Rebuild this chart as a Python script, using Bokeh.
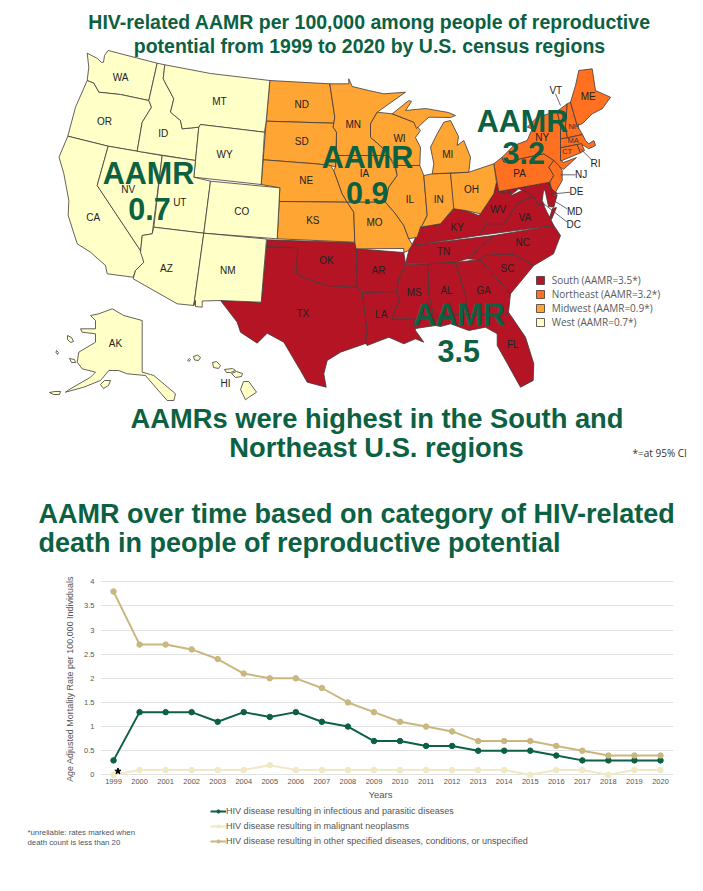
from bokeh.plotting import figure
from bokeh.models import Range1d, FixedTicker, Legend, LegendItem
from bokeh.core.properties import value
from bokeh.embed import file_html
from bokeh.resources import INLINE

# ---------- line chart data ----------
years = list(range(1999, 2021))
infectious = [0.3,1.3,1.3,1.3,1.1,1.3,1.2,1.3,1.1,1.0,0.7,0.7,0.6,0.6,0.5,0.5,0.5,0.4,0.3,0.3,0.3,0.3]
malignant = [0.0,0.1,0.1,0.1,0.1,0.1,0.2,0.1,0.1,0.1,0.1,0.1,0.1,0.1,0.1,0.1,0.0,0.1,0.1,0.0,0.1,0.1]
other = [3.8,2.7,2.7,2.6,2.4,2.1,2.0,2.0,1.8,1.5,1.3,1.1,1.0,0.9,0.7,0.7,0.7,0.6,0.5,0.4,0.4,0.4]
series_names = ["HIV disease resulting in infectious and parasitic diseases",
                "HIV disease resulting in malignant neoplasms",
                "HIV disease resulting in other specified diseases, conditions, or unspecified"]
series_colors = ["#0b6142","#efe9c6","#c9b77f"]
y_tick_values = [0,0.5,1,1.5,2,2.5,3,3.5,4]
y_tick_labels = ["0","0.5","1","1.5","2","2.5","3","3.5","4"]

# ---------- map data ----------
region_names = ["South","Northeast","Midwest","West"]
region_aamr = [3.5,3.2,0.9,0.7]

WEST = {
"WA":[(86.7,52.7),(97,58),(101,62),(103,61.7),(104,55),(107.7,50),(156.7,62.7),(148.3,100),(120,94),(98.3,91.7),(93.3,82.7),(86.7,80),(88.3,66.7)],
"OR":[(86.7,80),(93.3,82.7),(98.3,91.7),(120,94),(148.3,100),(151,106.7),(141.7,121.7),(136.7,150.7),(107.7,145.7),(67.3,135.7),(75,106.7)],
"CA":[(67.3,135.7),(107.7,145.7),(96.7,185),(141.7,252.7),(143.3,261.7),(135,270),(132.7,276.7),(106.7,273.3),(105,265),(90,251.7),(76.7,243.3),(67.7,215),(68.3,200),(63.3,173),(58.5,156.7)],
"NV":[(107.7,145.7),(161.7,155),(151.7,233.3),(141.7,235),(140,251.7),(141.7,252.7),(96.7,185)],
"ID":[(156.7,62.7),(164.3,64.3),(162.7,78.3),(173.3,98.3),(170,111.7),(180,120),(181.7,128.3),(198.3,126.7),(195,160),(136.7,150.7),(141.7,121.7),(151,106.7),(148.3,100)],
"MT":[(164.3,64.3),(210,73),(269.3,80),(265.7,120.7),(264,131.7),(200,124),(198.3,126.7),(181.7,128.3),(180,120),(170,111.7),(173.3,98.3),(162.7,78.3)],
"WY":[(200,124),(264,131.7),(260.7,184),(193.3,176.7),(195,160),(198.3,126.7)],
"UT":[(161.7,155),(195,160),(193.3,176.7),(210,180.7),(203.3,232.7),(153.3,226.7)],
"CO":[(210,180.7),(279.3,187.3),(276.7,238.3),(203.3,232.7)],
"AZ":[(153.3,226.7),(203.3,232.7),(193.3,305),(176.7,303.3),(132.7,278.3),(135,270),(143.3,261.7),(140,251.7),(141.7,235),(151.7,233.3)],
"NM":[(203.3,232.7),(266,238.5),(260.7,301.7),(220,300),(201.7,300.5),(201.7,306.7),(195,306),(195,300),(193.3,305)],
"AK":[(90,315),(98.3,313.3),(111.7,308.3),(123.3,315),(141.7,320),(141.7,371.7),(150,374),(153.3,375),(164,384),(175,393.3),(173.3,400),(166.7,400),(155,386.7),(145,375),(126.7,373.3),(118,370),(108.3,370),(100,380),(83.3,386.7),(65,391.7),(68.3,389.3),(90,376.7),(95,371.7),(81.7,368.3),(76.7,361.7),(78.3,351.7),(95,341.7),(95,333.3),(81.7,331.7),(80,328.3),(95,328.3),(95,320)],
"AK_st_lawrence":[(67,335),(71,337),(73,341),(70,342),(67,339)],
"AK_nunivak":[(69,358),(74,359),(75,362),(71,362)],
"AK_st_matthew":[(56,350),(58,352),(57,354),(55.5,352)],
"AK_kodiak":[(100,384),(104,380),(110,380),(108,385),(103,388)],
"AK_unimak":[(49,392),(54,391),(60,391),(59,394),(53,394)],
"HI_kauai":[(193,356),(197,354.5),(200,357),(198,360),(194,359.5)],
"HI_niihau":[(187,359.5),(189,358),(190,359),(188.5,361)],
"HI_oahu":[(212,362),(216,361),(220,365),(218,368),(213,367)],
"HI_molokai":[(224,369),(232,368),(235,370),(230,372),(226,372)],
"HI_maui":[(231,373),(236,371),(242,373),(241,376),(235,377)],
"HI_hawaii":[(243,381),(248.3,381),(256,391.7),(248,397),(245,399.3),(240,389)],
}
MIDWEST = {
"ND":[(269.3,80),(329.3,83.3),(334.3,116.7),(333.3,122.7),(265.7,120.7)],
"SD":[(265.7,120.7),(333.3,122.7),(332.7,126.7),(336,131.7),(335,166.7),(330,165),(315,163.3),(262.7,159.3)],
"NE":[(262.7,159.3),(315,163.3),(330,165),(333.3,170),(341.7,193.3),(346.7,201.7),(278.7,201),(279.3,187.3),(260.7,184)],
"KS":[(278.7,201),(346.7,201.7),(353.3,211.7),(354.3,241.7),(276.7,238.3)],
"MN":[(329.3,83.3),(348.3,83.3),(348.3,78.3),(351.7,86),(368.3,90),(383.3,93.3),(405,91.7),(376.7,111.7),(370,123.3),(370,136.7),(385,150),(388.3,155),(336,155),(336,131.7),(332.7,126.7),(333.3,122.7),(334.3,116.7)],
"IA":[(336,155),(388.3,155),(395,168.3),(396.7,175),(388.3,186.7),(385,201.7),(346.7,201.7),(341.7,193.3),(333.3,170),(335,166.7)],
"MO":[(346.7,201.7),(385,201.7),(395,213.3),(403.3,225),(408.3,238.3),(411.7,244),(408,250),(403.3,252),(403.3,248),(355.5,248.3),(354.3,241.7),(353.3,211.7)],
"WI":[(376.7,111.7),(391.7,113.3),(413.3,121.7),(420,130),(415,137),(420,147),(419.3,165),(395,165),(388.3,155),(385,150),(370,136.7),(370,123.3)],
"IL":[(395,165),(419.3,165),(423.3,175),(426.7,215),(421.7,225),(420,226.7),(416.7,236.7),(408.3,238.3),(403.3,225),(395,213.3),(385,201.7),(388.3,186.7),(396.7,175)],
"IN":[(423.3,175),(431.7,173.3),(450,172.7),(454,206.7),(440,223.3),(420,226.7),(421.7,225),(426.7,215)],
"OH":[(450,172.7),(468.3,171.7),(493.3,163.3),(496,181.7),(493.3,193.3),(480,213.3),(465,210),(453.3,208.3)],
"MI":[(431.7,173.3),(468.3,171.7),(470,156.7),(463.3,140),(456.7,145),(458,136),(450,120),(443.3,121.7),(436.7,133.3),(430,146.7),(433.3,163.3)],
"MI_upper":[(391.7,113.3),(408.3,100),(411,101),(405,110),(425,108),(448,112),(455,115),(450,117),(428.3,116.7),(416,128),(413.3,121.7)],
}
NORTHEAST = {
"PA":[(493.3,163.3),(501.7,156.7),(503.3,161.7),(543.3,153.3),(553.3,160),(548.3,166.7),(553.3,175),(549.3,181.7),(498.3,191)],
"NY":[(501.7,156.7),(513.3,145),(526.7,140),(531.7,128.3),(526.7,126.7),(536.7,116.7),(556.7,110.7),(560,125),(560,147.3),(560,160),(563,162),(576,157),(563,169),(558.5,166),(553.3,160),(543.3,153.3),(503.3,161.7)],
"NJ":[(553.3,160),(558.3,165),(561.7,170),(561.7,180),(555,191.7),(551,188),(549.3,181.7),(553.3,175),(548.3,166.7)],
"VT":[(556.7,110.7),(566.7,103.3),(565,126.7),(567,137.3),(560,138.3),(560,125)],
"NH":[(566.7,103.3),(570,101.7),(576.7,125),(582,134),(567,137.3),(565,126.7)],
"ME":[(570,101.7),(575,85),(578.3,70),(591.7,68.3),(595,90),(610,96.7),(601.7,108.3),(591.7,113.3),(581.7,123.3),(576.7,125)],
"MA":[(560,138.3),(567,137.3),(582,134),(585,140),(588.3,143.3),(593.3,140),(595,145),(588.3,148.3),(583.3,145),(576.7,144),(560,147.3)],
"CT":[(560,147.3),(576.7,144),(580,152.3),(561.7,160),(560,160)],
"RI":[(576.7,144),(581,143),(584,150),(580,152.3)],
}
SOUTH = {
"TX":[(266,246),(297.3,247.3),(296,273.3),(306.7,278.3),(326.7,285),(356.7,286.7),(361.7,292.3),(366.7,330),(365,343),(340,351.7),(326.7,360),(323.3,373.3),(325.7,386.7),(306.7,381.7),(300,370),(283.3,341.7),(266.7,332.7),(256.7,342.7),(240,331.7),(236.7,321.7),(220,300),(260.7,301.7)],
"OK":[(266.7,239.3),(356,242.3),(356.7,286.7),(326.7,285),(306.7,278.3),(296,273.3),(297.3,247.3),(266,246)],
"AR":[(355.5,248.3),(403.3,252),(405,263.3),(398.3,278.3),(396,291),(361.7,292.3),(356.7,286.7),(356,242.3)],
"LA":[(361.7,292.3),(396,291),(399,298),(391.7,318.3),(413.3,318.3),(415,330),(423.3,341.7),(415,338.3),(403.3,343.3),(388.3,336.7),(366.7,345),(365,343),(366.7,330)],
"MS":[(405,264),(427.3,263.3),(428.3,293.3),(435,325),(415,328),(413.3,318.3),(391.7,318.3),(399,298),(396,291),(398.3,278.3)],
"AL":[(427.3,263.3),(455,261.7),(465,295),(466.7,313.3),(437,316),(440,326),(435,325),(428.3,293.3)],
"GA":[(455,261.7),(478.3,259.3),(483.3,263.3),(510,293.3),(508,311.7),(505,315),(466.7,313.3),(465,295)],
"FL":[(437,316),(466.7,313.3),(505,315),(508,311.7),(525,336.7),(533.3,363.3),(532.7,380),(520,386.7),(503.3,356.7),(496.7,345),(496.7,333.3),(485,326.7),(468.3,330),(450,323.3),(440,326)],
"SC":[(478.3,259.3),(485,255),(503.3,253.3),(513.3,254),(533.3,265),(510,293.3),(483.3,263.3)],
"NC":[(493.3,235),(553.3,225),(560,235),(553,253.3),(533.3,265),(513.3,254),(503.3,253.3),(485,255),(478.3,259.3),(466.7,258.3)],
"TN":[(405,263.3),(408.3,250),(411.7,245),(493.3,235),(466.7,258.3),(455,261.7),(427.3,263.3)],
"KY":[(411.7,244),(420,226.7),(440,223.3),(453.3,208.3),(465,210),(478.3,215),(486.7,223.3),(478.3,235),(411.7,245)],
"WV":[(496,181.7),(498.3,191),(508.3,193.3),(509,190),(511,195),(525,188.3),(533.3,196.7),(527,198),(516.7,203.3),(508.3,216.7),(503.3,223.3),(486.7,223.3),(478.3,215),(480,213.3),(493.3,193.3)],
"VA":[(486.7,223.3),(503.3,223.3),(508.3,216.7),(516.7,203.3),(527,198),(533.3,196.7),(536.7,203.3),(543.3,205),(546.7,212),(553.3,225),(478.3,235)],
"VA_shore":[(552,208),(556,207),(551,219),(549,217)],
"MD":[(498.3,191),(549.3,181.7),(551.7,195),(556.7,194.4),(553.3,206.7),(548,206),(545,191.7),(543.3,188.3),(541.7,200),(544,205),(536.7,203.3),(533.3,196.7),(526.7,191.7),(518.3,188.3),(511,194),(509,190),(508.3,193.3)],
"DE":[(549.3,181.7),(553.3,188.3),(556.7,193.3),(551.7,195)],
}
LABELS = {
"WA":(120,76.7),"OR":(104,121),"ID":(162.7,132.7),"MT":(219,101.3),"WY":(224,154),"ND":(301.3,104.3),"SD":(301.3,141),
"NE":(305.7,180.3),"NV":(127.7,189),"UT":(179.3,202.3),"CO":(241.3,210.7),"CA":(92.7,216.7),"KS":(312.3,220),"AZ":(166,268.3),
"NM":(227.3,270.3),"OK":(326,260.3),"TX":(302.3,313.3),"AK":(115,343.3),"HI":(225,383.3),"MN":(352.7,124.3),"IA":(364,173.3),
"MO":(374,222.3),"WI":(399,138.3),"IL":(409.3,199.3),"IN":(438.3,199.3),"MI":(447.3,154),"OH":(471,189.3),"KY":(456.7,226.7),
"WV":(497.7,209),"VA":(524.3,216.7),"NC":(522.3,241.7),"TN":(443,250.7),"AR":(378,270.3),"SC":(507,268.3),"GA":(483.3,290),
"AL":(446,290),"MS":(413.7,292),"LA":(380.7,314.3),"FL":(512.3,344),"ME":(587.7,95.7),"NY":(541.7,137.3),"PA":(519,172.7),
"VT":(555.3,89.5),"RI":(595,163.3),"NJ":(580.7,174.3),"DE":(576,190.7),"MD":(574.3,210.7),"DC":(573.3,224.3),
}
SMALL_LABELS = {"NH":(573.3,125.7),"MA":(572.7,140),"CT":(566.7,150.7)}
LEADERS = {"VT":[(555,93.3),(560,105)],"RI":[(580,148.3),(591.7,160)],"NJ":[(560,174.3),(575,174.3)],
           "DE":[(553.3,193.3),(570,191.7)],"MD":[(553,200),(566.7,208.3)],"DC":[(543.3,203.3),(566.7,221.7)]}
REGION_CALLOUTS = [("AAMR",148,172),("0.7",149,208),("AAMR",367,156),("0.9",366.7,192),
                   ("AAMR",522,120),("3.2",523.3,152.3),("AAMR",458.7,313.3),("3.5",458.3,350.7)]
GREEN = "#0b6142"
FONT = "Liberation Sans"

# ---------- map figure (coordinates are those of the traced map) ----------
m = figure(width=703, height=568, x_range=Range1d(0,703), y_range=Range1d(568,0), output_backend="svg",
           toolbar_location=None, min_border=0)
m.axis.visible = False
m.grid.visible = False
m.outline_line_color = None

region_maps = [SOUTH, NORTHEAST, MIDWEST, WEST]
region_colors = ["#b51424", "#ff7120", "#ffa533", "#ffffc8"]
items = []
for name, aamr, shapes, col in zip(region_names, region_aamr, region_maps, region_colors):
    xs = [[pt[0] for pt in s] for s in shapes.values()]
    ys = [[pt[1] for pt in s] for s in shapes.values()]
    r = m.patches(xs, ys, fill_color=col, line_color="#403838", line_width=0.8)
    items.append(LegendItem(label=f"{name} (AAMR={aamr}*)", renderers=[r]))
legend = Legend(items=items, location=(534.7, 239), border_line_color=None, background_fill_color=None,
                glyph_width=10, glyph_height=10, label_standoff=7, spacing=0, padding=0, margin=0,
                label_height=10, label_text_font="Open Sans",
                label_text_font_size="10px", label_text_color="#595959")
m.add_layout(legend, "center")

for seg in LEADERS.values():
    m.line([seg[0][0],seg[1][0]], [seg[0][1],seg[1][1]], line_color="#444444", line_width=0.8)

m.text([v[0] for v in LABELS.values()], [v[1] for v in LABELS.values()], text=list(LABELS.keys()),
       text_font=value(FONT), text_font_size="10px", text_color="#222222", text_align="center", text_baseline="middle")
m.text([v[0] for v in SMALL_LABELS.values()], [v[1] for v in SMALL_LABELS.values()], text=list(SMALL_LABELS.keys()),
       text_font=value(FONT), text_font_size="7.5px", text_color="#333333", text_align="center", text_baseline="middle")
m.text([c[1] for c in REGION_CALLOUTS], [c[2] for c in REGION_CALLOUTS], text=[c[0] for c in REGION_CALLOUTS],
       text_font=value(FONT), text_font_style="bold", text_font_size="30.5px", text_color=GREEN,
       text_align="center", text_baseline="middle")

def heading(fig, txt, x, y, size, align="center", col=GREEN, style="bold", font=FONT):
    fig.text([x],[y],text=[txt],text_font=value(font),text_font_style=style,text_font_size=size,text_color=col,
             text_align=align,text_baseline="middle")
heading(m, "HIV-related AAMR per 100,000 among people of reproductive", 369, 21, "19.5px")
heading(m, "potential from 1999 to 2020 by U.S. census regions", 369, 45, "19.5px")
heading(m, "AAMRs were highest in the South and", 376.5, 418, "27.3px")
heading(m, "Northeast U.S. regions", 376, 447, "27.3px")
heading(m, "AAMR over time based on category of HIV-related", 38, 513, "27px", align="left")
heading(m, "death in people of reproductive potential", 38, 542, "27px", align="left")
heading(m, "*=at 95% CI", 632, 452, "10px", align="left", col="#333333", style="normal", font="Open Sans")

# ---------- line chart ----------
c = figure(width=703, height=222, x_range=Range1d(1998.5,2020.5), y_range=Range1d(-0.117,4.09),
           output_backend="svg", toolbar_location=None, min_border_left=100, min_border_right=30,
           min_border_top=9, min_border_bottom=10)
c.outline_line_color = None
c.xgrid.visible = False
c.ygrid.grid_line_color = "#e2e2e2"
c.ygrid.grid_line_width = 1
c.yaxis.ticker = FixedTicker(ticks=y_tick_values)
c.xaxis.ticker = FixedTicker(ticks=years)
c.yaxis.major_label_overrides = {float(v) if v % 1 else int(v): t for v, t in zip(y_tick_values, y_tick_labels)}
c.xaxis.major_label_overrides = {y: str(y) for y in years}
for ax in (c.xaxis, c.yaxis):
    ax.axis_line_color = None
    ax.major_tick_line_color = None
    ax.minor_tick_line_color = None
    ax.major_tick_out = 0
    ax.major_tick_in = 0
    ax.major_label_text_font = FONT
    ax.major_label_text_font_size = "7.5px"
    ax.major_label_text_color = "#555555"
    ax.axis_label_text_font = FONT
    ax.axis_label_text_font_style = "normal"
    ax.axis_label_text_color = "#555555"
c.yaxis.major_label_standoff = 6
c.xaxis.major_label_standoff = -2
c.yaxis.axis_label = "Age Adjusted Mortality Rate per 100,000 Individuals"
c.yaxis.axis_label_text_font_size = "8.95px"
c.yaxis.axis_label_standoff = 6

for vals, col in zip([infectious, malignant, other], series_colors):
    c.line(years, vals, line_color=col, line_width=2)
    c.scatter(years, vals, size=5.5, fill_color=col, line_color=col)
c.scatter([1999.17],[0.075], marker="star", size=6.5, fill_color="black", line_color="black")

# ---------- legend and notes under the chart ----------
f = figure(width=703, height=95, x_range=Range1d(0,703), y_range=Range1d(885,790), output_backend="svg",
           toolbar_location=None, min_border=0)
f.axis.visible = False
f.grid.visible = False
f.outline_line_color = None
rows = []
# the series values lie far outside this panel's ranges, so only their legend keys show here
for nm, col, vals in zip(series_names, series_colors, [infectious, malignant, other]):
    l = f.line(years, vals, line_color=col, line_width=2)
    s = f.scatter(years, vals, size=5.5, fill_color=col, line_color=col)
    rows.append(LegendItem(label=nm, renderers=[l, s]))
leg2 = Legend(items=rows, location=(210,39), border_line_color=None, background_fill_color=None, glyph_width=16,
              glyph_height=8, label_standoff=0, spacing=5, padding=0, margin=0, label_height=9,
              label_text_font=FONT, label_text_font_size="9.05px", label_text_color="#555555")
f.add_layout(leg2, "center")
heading(f, "Years", 380, 794, "9.5px", col="#555555", style="normal")
heading(f, "*unreliable: rates marked when", 27, 831.5, "7.8px", align="left", col="#44546a", style="normal")
heading(f, "death count is less than 20", 27, 841.6, "7.8px", align="left", col="#44546a", style="normal")

open("out.html","w").write(file_html([m, c, f], INLINE))
